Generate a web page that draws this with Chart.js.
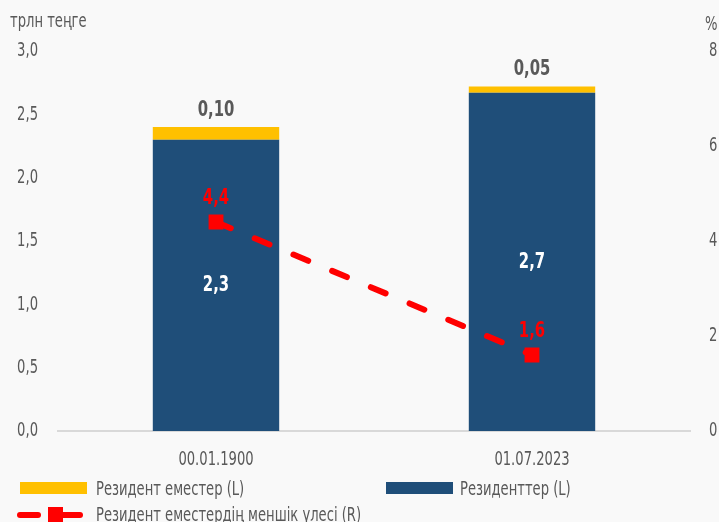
<!DOCTYPE html>
<html lang="kk">
<head>
    <meta charset="UTF-8">
    <title>Резиденттер мен резидент еместер</title>
    <script src="https://cdn.jsdelivr.net/npm/chart.js"></script>
    <style>
        body {
            margin: 0;
            background-color: #f9f9f9;
            font-family: 'DejaVu Sans Condensed', 'DejaVu Sans', sans-serif;
            color: #595959;
        }
        .wrap {
            position: relative;
            width: 719px;
            height: 522px;
        }
        .txt {
            position: absolute;
            font-size: 20px;
            line-height: 20px;
            white-space: nowrap;
            transform: scaleX(0.73);
            transform-origin: left center;
        }
        .box {
            position: absolute;
            height: 12px;
        }
    </style>
</head>
<body>
<div class="wrap" id="wrap">
    <canvas id="chart" width="719" height="522"></canvas>
    <span class="txt" style="left:10px; top:10px;">трлн теңге</span>
    <span class="txt" style="left:705px; top:13px;">%</span>
</div>

<script>
    const FONT = "'DejaVu Sans Condensed', 'DejaVu Sans', sans-serif";
    const SQUEEZE = 0.73;

    const categories = ['00.01.1900', '01.07.2023'];
    const residents = [2.3, 2.67];
    const nonResidents = [0.10, 0.05];
    const nonResidentShare = [4.4, 1.6];

    const leftTicks = [0, 0.5, 1, 1.5, 2, 2.5, 3];
    const rightTicks = [0, 2, 4, 6, 8];

    const NAVY = '#1f4e79';
    const YELLOW = '#ffc000';
    const RED = '#ff0000';
    const GREY = '#595959';

    const comma = (v, d) => v.toFixed(d).replace('.', ',');

    // узкий текст: шрифт сжимается по горизонтали
    function narrowText(ctx, text, x, y, align, k) {
        ctx.save();
        ctx.translate(x, y);
        ctx.scale(k, 1);
        ctx.textAlign = align;
        ctx.fillText(text, 0, 0);
        ctx.restore();
    }

    // подписи осей
    const axisText = {
        id: 'axisText',
        afterDraw(chart) {
            const ctx = chart.ctx;
            const s = chart.scales;
            ctx.save();
            ctx.font = '20px ' + FONT;
            ctx.fillStyle = GREY;
            ctx.textBaseline = 'middle';
            leftTicks.forEach(v => {
                narrowText(ctx, comma(v, 1), s.y.right - 20, s.y.getPixelForValue(v), 'right', SQUEEZE);
            });
            rightTicks.forEach(v => {
                narrowText(ctx, String(v), s.y1.left + 19, s.y1.getPixelForValue(v), 'left', SQUEEZE);
            });
            categories.forEach((c, i) => {
                narrowText(ctx, c, s.x.getPixelForValue(i), s.x.top + 29, 'center', SQUEEZE);
            });
            ctx.restore();
        }
    };

    // подписи значений
    const valueLabels = {
        id: 'valueLabels',
        afterDatasetsDraw(chart) {
            const ctx = chart.ctx;
            ctx.save();
            ctx.textBaseline = 'middle';
            ctx.font = 'bold 22px ' + FONT;
            const k = 0.75;

            chart.getDatasetMeta(0).data.forEach((el, i) => {
                ctx.fillStyle = '#ffffff';
                narrowText(ctx, comma(residents[i], 1), el.x, (el.y + el.base) / 2, 'center', k);
            });
            chart.getDatasetMeta(1).data.forEach((el, i) => {
                ctx.fillStyle = GREY;
                narrowText(ctx, comma(nonResidents[i], 2), el.x, el.y - 17, 'center', k);
            });
            chart.getDatasetMeta(2).data.forEach((el, i) => {
                ctx.fillStyle = RED;
                narrowText(ctx, comma(nonResidentShare[i], 1), el.x, el.y - 24, 'center', k);
            });
            ctx.restore();
        }
    };

    const chart = new Chart(document.getElementById('chart'), {
        type: 'bar',
        data: {
            labels: categories,
            datasets: [
                {
                    label: 'Резиденттер (L)',
                    data: residents,
                    backgroundColor: NAVY,
                    yAxisID: 'y',
                    order: 1,
                    barPercentage: 0.4,
                    categoryPercentage: 1
                },
                {
                    label: 'Резидент еместер (L)',
                    data: nonResidents,
                    backgroundColor: YELLOW,
                    yAxisID: 'y',
                    order: 2,
                    barPercentage: 0.4,
                    categoryPercentage: 1
                },
                {
                    type: 'line',
                    label: 'Резидент еместердің меншік үлесі (R)',
                    data: nonResidentShare,
                    yAxisID: 'y1',
                    order: 0,
                    borderColor: RED,
                    backgroundColor: RED,
                    borderWidth: 6,
                    borderDash: [16, 26],
                    borderCapStyle: 'round',
                    pointStyle: 'rect',
                    pointRadius: 10.5,
                    pointBorderWidth: 0
                }
            ]
        },
        options: {
            responsive: false,
            animation: false,
            layout: {
                padding: { top: 51, bottom: 46, left: 0, right: 0 }
            },
            plugins: {
                legend: { display: false },
                tooltip: { enabled: false }
            },
            scales: {
                x: {
                    stacked: true,
                    grid: { display: false },
                    border: { display: true, color: '#d9d9d9', width: 2 },
                    ticks: { display: false },
                    afterFit(scale) { scale.height = 45; }
                },
                y: {
                    stacked: true,
                    position: 'left',
                    min: 0,
                    max: 3,
                    grid: { display: false },
                    border: { display: false },
                    ticks: { display: false },
                    afterFit(scale) { scale.width = 58; }
                },
                y1: {
                    position: 'right',
                    min: 0,
                    max: 8,
                    grid: { display: false },
                    border: { display: false },
                    ticks: { display: false },
                    afterFit(scale) { scale.width = 29; }
                }
            }
        },
        plugins: [valueLabels, axisText]
    });

    // легенда
    const wrap = document.getElementById('wrap');

    function addText(text, left, top) {
        const t = document.createElement('span');
        t.className = 'txt';
        t.textContent = text;
        t.style.left = left + 'px';
        t.style.top = top + 'px';
        wrap.appendChild(t);
    }

    function addBox(color, left, top) {
        const b = document.createElement('div');
        b.className = 'box';
        b.style.background = color;
        b.style.left = left + 'px';
        b.style.top = top + 'px';
        b.style.width = '67px';
        wrap.appendChild(b);
    }

    function addDash(left, top) {
        const c = document.createElement('canvas');
        c.width = 70;
        c.height = 18;
        c.style.position = 'absolute';
        c.style.left = left + 'px';
        c.style.top = top + 'px';
        const g = c.getContext('2d');
        g.strokeStyle = RED;
        g.lineWidth = 6;
        g.lineCap = 'round';
        g.beginPath(); g.moveTo(3, 9); g.lineTo(21, 9); g.stroke();
        g.beginPath(); g.moveTo(46, 9); g.lineTo(63, 9); g.stroke();
        g.fillStyle = RED;
        g.fillRect(31, 1, 15, 16);
        wrap.appendChild(c);
    }

    addBox(YELLOW, 20, 482);
    addText(chart.data.datasets[1].label, 96, 478);
    addBox(NAVY, 386, 482);
    addText(chart.data.datasets[0].label, 460, 478);
    addDash(17, 506);
    addText(chart.data.datasets[2].label, 96, 504);
</script>
</body>
</html>
